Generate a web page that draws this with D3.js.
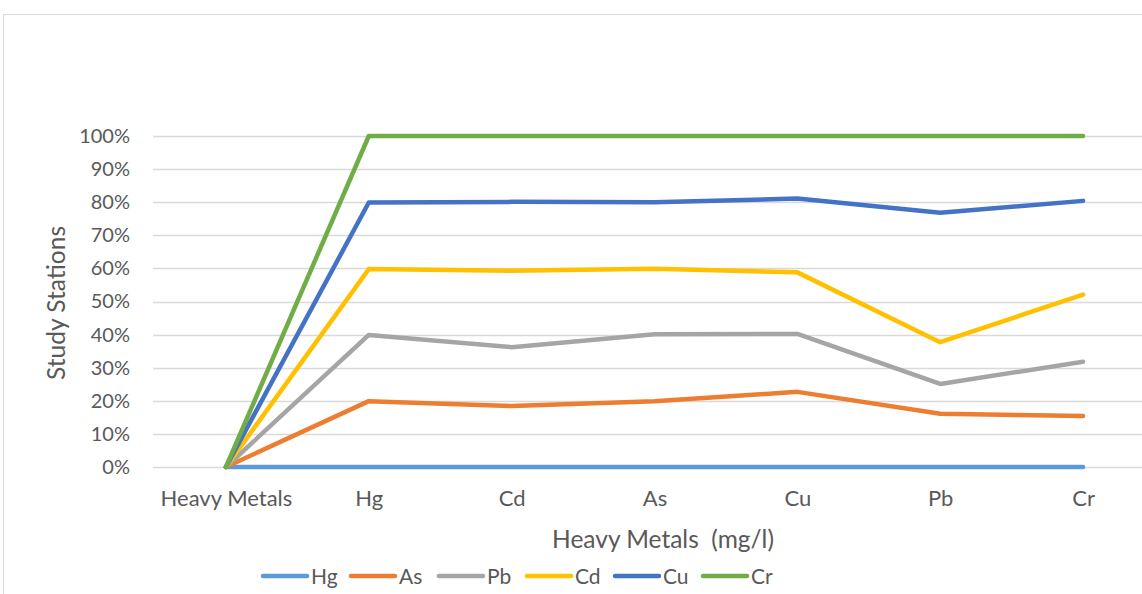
<!DOCTYPE html>
<html><head><meta charset="utf-8">
<script src="https://cdn.jsdelivr.net/npm/d3@7"></script>
<style>body{margin:0;background:#fff;} svg{display:block;} text{font-family:Lato, "Open Sans", sans-serif;}</style>
</head><body><svg id="c" width="1142" height="594"></svg>
<script>
const categories = ["Heavy Metals","Hg","Cd","As","Cu","Pb","Cr"];
const seriesNames = ["Hg","As","Pb","Cd","Cu","Cr"];
const colors = ["#5b9bd5","#ed7d31","#a5a5a5","#ffc000","#4472c4","#70ad47"];
// plotted (cumulative, 100% stacked) values in %
const Hg = [0, 0, 0, 0, 0, 0, 0];
const As = [0, 19.9, 18.4, 19.9, 22.7, 16.1, 15.4];
const Pb = [0, 39.9, 36.2, 40.1, 40.2, 25.1, 31.8];
const Cd = [0, 59.8, 59.3, 59.9, 58.8, 37.7, 52.1];
const Cu = [0, 79.9, 80.1, 80.0, 81.1, 76.8, 80.4];
const Cr = [0, 100, 100, 100, 100, 100, 100];
const yTicks = [0,10,20,30,40,50,60,70,80,90,100];
const seriesData = [Hg, As, Pb, Cd, Cu, Cr];

const svg = d3.select("#c");
svg.append("rect").attr("x",3.5).attr("y",14.5).attr("width",1160).attr("height",600)
  .attr("fill","none").attr("stroke","#d9d9d9").attr("stroke-width",1);

const x = d3.scalePoint().domain(categories).range([154.5,1154.5]).padding(0.5);
const y = d3.scaleLinear().domain([0,100]).range([467,136]);

// gridlines
svg.append("g").selectAll("line").data(yTicks).join("line")
  .attr("x1",153).attr("x2",1155)
  .attr("y1",d=>Math.round(y(d))+0.5).attr("y2",d=>Math.round(y(d))+0.5)
  .attr("stroke","#d9d9d9").attr("stroke-width",1.5);

// y axis labels
const yAxis = d3.axisLeft(y).tickValues(yTicks).tickFormat(d=>d+"%").tickSize(0).tickPadding(0);
const gy = svg.append("g").attr("transform","translate(130,0)").call(yAxis);
gy.select(".domain").remove();
gy.selectAll("text").attr("font-size",20).attr("fill","#595959").attr("font-family","Lato");

// x axis labels
const xAxis = d3.axisBottom(x).tickSize(0).tickPadding(0);
const gx = svg.append("g").attr("transform","translate(0,490)").call(xAxis);
gx.select(".domain").remove();
gx.selectAll("text").attr("font-size",22).attr("fill","#595959").attr("font-family","Lato").attr("dy","0.71em");

// lines
const line = d3.line().x((d,i)=>x(categories[i])).y(d=>y(d));
svg.append("g").selectAll("path").data(seriesData).join("path")
  .attr("d",line).attr("fill","none")
  .attr("stroke",(d,i)=>colors[i]).attr("stroke-width",4.5)
  .attr("stroke-linejoin","round").attr("stroke-linecap","round");

// axis titles
svg.append("text").attr("x",663).attr("y",548).attr("text-anchor","middle")
  .attr("font-size",24.5).attr("fill","#595959").attr("xml:space","preserve").text("Heavy Metals  (mg/l)");
svg.append("text").attr("transform","translate(65,303) rotate(-90)").attr("text-anchor","middle")
  .attr("font-size",24.5).attr("fill","#595959").text("Study Stations");

// legend
const legStart = 263, legStep = 88;
const lg = svg.append("g");
seriesNames.forEach((s,i)=>{
  const lx = legStart + i*legStep;
  lg.append("line").attr("x1",lx).attr("x2",lx+44).attr("y1",576).attr("y2",576)
    .attr("stroke",colors[i]).attr("stroke-width",4.5).attr("stroke-linecap","round");
  lg.append("text").attr("x",lx+48).attr("y",584).attr("font-size",21).attr("fill","#595959").text(s);
});
</script></body></html>
